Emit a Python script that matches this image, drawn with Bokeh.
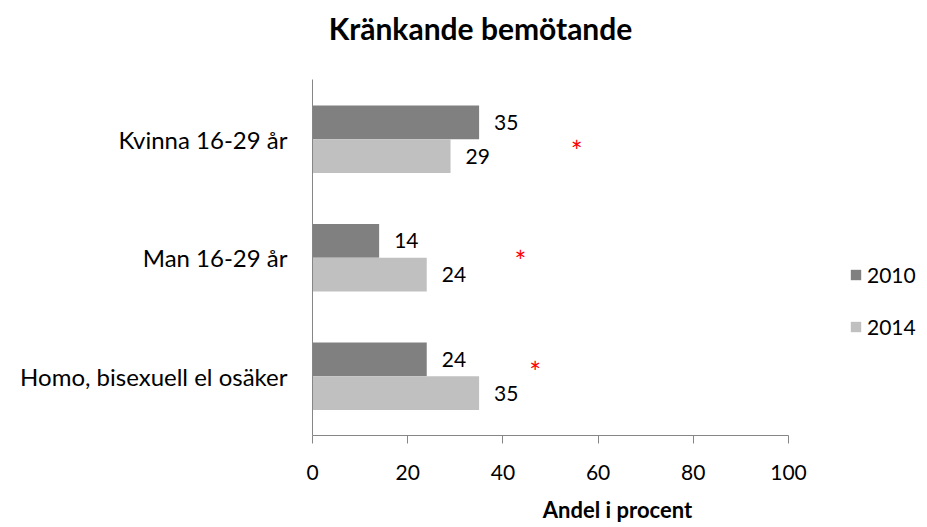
from bokeh.plotting import figure
from bokeh.models import Range1d, FixedTicker, Legend, LegendItem, ColumnDataSource, Label
from bokeh.core.properties import value
from bokeh.embed import file_html
from bokeh.resources import INLINE
import numpy as np

title_text = "Kränkande bemötande"
x_label = "Andel i procent"
categories = ["Kvinna 16-29 år", "Man 16-29 år", "Homo, bisexuell el osäker"]
v2010 = [35, 14, 24]
v2014 = [29, 24, 35]
sig_x = [55.5, 43.7, 46.8]
sig_y = [2.40, 1.476, 0.536]
x_ticks = [0, 20, 40, 60, 80, 100]

FONT = "Lato"
DARK = "#808080"
LIGHT = "#c0c0c0"
AXIS = "#868686"

n = len(categories)
centers = np.array([n - 0.5 - i for i in range(n)])
h = 0.285

p = figure(width=925, height=525, output_backend="svg", toolbar_location=None, title=None,
           x_range=Range1d(0, 128.15), y_range=Range1d(0, n + 0.6704),
           min_border_left=312, min_border_right=3, min_border_top=0, min_border_bottom=87)
p.outline_line_color = None
p.grid.visible = False
p.background_fill_color = "white"
p.border_fill_color = "white"

src10 = ColumnDataSource(dict(y=centers + h / 2, v=v2010, lab=[str(v) for v in v2010]))
src14 = ColumnDataSource(dict(y=centers - h / 2, v=v2014, lab=[str(v) for v in v2014]))

r10 = p.hbar(y="y", right="v", left=0, height=h, source=src10, fill_color=DARK, line_color=None)
r14 = p.hbar(y="y", right="v", left=0, height=h, source=src14, fill_color=LIGHT, line_color=None)

for s in (src10, src14):
    p.text(x="v", y="y", text="lab", source=s, x_offset=15, text_align="left",
           text_baseline="middle", text_font=value(FONT), text_font_size="21px", text_color="black")

sig_src = ColumnDataSource(dict(x=sig_x, y=sig_y, t=["*"] * n))
p.text(x="x", y="y", text="t", source=sig_src, text_align="center", text_baseline="middle",
       text_font=value(FONT), text_font_size="28px", text_color="red")

# axes
p.xaxis.bounds = (0, 100)
p.xaxis.ticker = FixedTicker(ticks=x_ticks)
p.xaxis.minor_tick_line_color = None
p.xaxis.major_tick_in = 0
p.xaxis.major_tick_out = 8
p.xaxis.major_tick_line_color = AXIS
p.xaxis.axis_line_color = AXIS
p.xaxis.major_label_standoff = 21
p.xaxis.major_label_text_font = FONT
p.xaxis.major_label_text_font_size = "21px"
p.xaxis.major_label_text_color = "black"
p.xaxis.axis_label = x_label
p.xaxis.axis_label_text_font = FONT
p.xaxis.axis_label_text_font_style = "bold"
p.xaxis.axis_label_text_font_size = "22px"
p.xaxis.axis_label_text_color = "black"
p.xaxis.axis_label_standoff = 13

p.yaxis.bounds = (0, n)
p.yaxis.ticker = FixedTicker(ticks=list(centers))
p.yaxis.major_label_overrides = {float(c): cat for c, cat in zip(centers, categories)}
p.yaxis.minor_tick_line_color = None
p.yaxis.major_tick_in = 0
p.yaxis.major_tick_out = 0
p.yaxis.axis_line_color = AXIS
p.yaxis.major_label_standoff = 25
p.yaxis.major_label_text_font = FONT
p.yaxis.major_label_text_font_size = "24px"
p.yaxis.major_label_text_color = "black"

title = Label(x=168, y=408, x_units="screen", y_units="screen", text=title_text,
              text_align="center", text_baseline="middle", text_font=FONT,
              text_font_style="bold", text_font_size="30px", text_color="black")
p.add_layout(title)

legend = Legend(items=[LegendItem(label="2010", renderers=[r10]),
                       LegendItem(label="2014", renderers=[r14])],
                location=(537, 96), padding=0, margin=0, border_line_color=None,
                background_fill_alpha=0, glyph_width=13, glyph_height=13,
                label_height=24, spacing=27, label_standoff=5,
                label_text_font=FONT, label_text_font_size="21px", label_text_color="black")
p.add_layout(legend)

open("out.html", "w").write(file_html(p, INLINE))
